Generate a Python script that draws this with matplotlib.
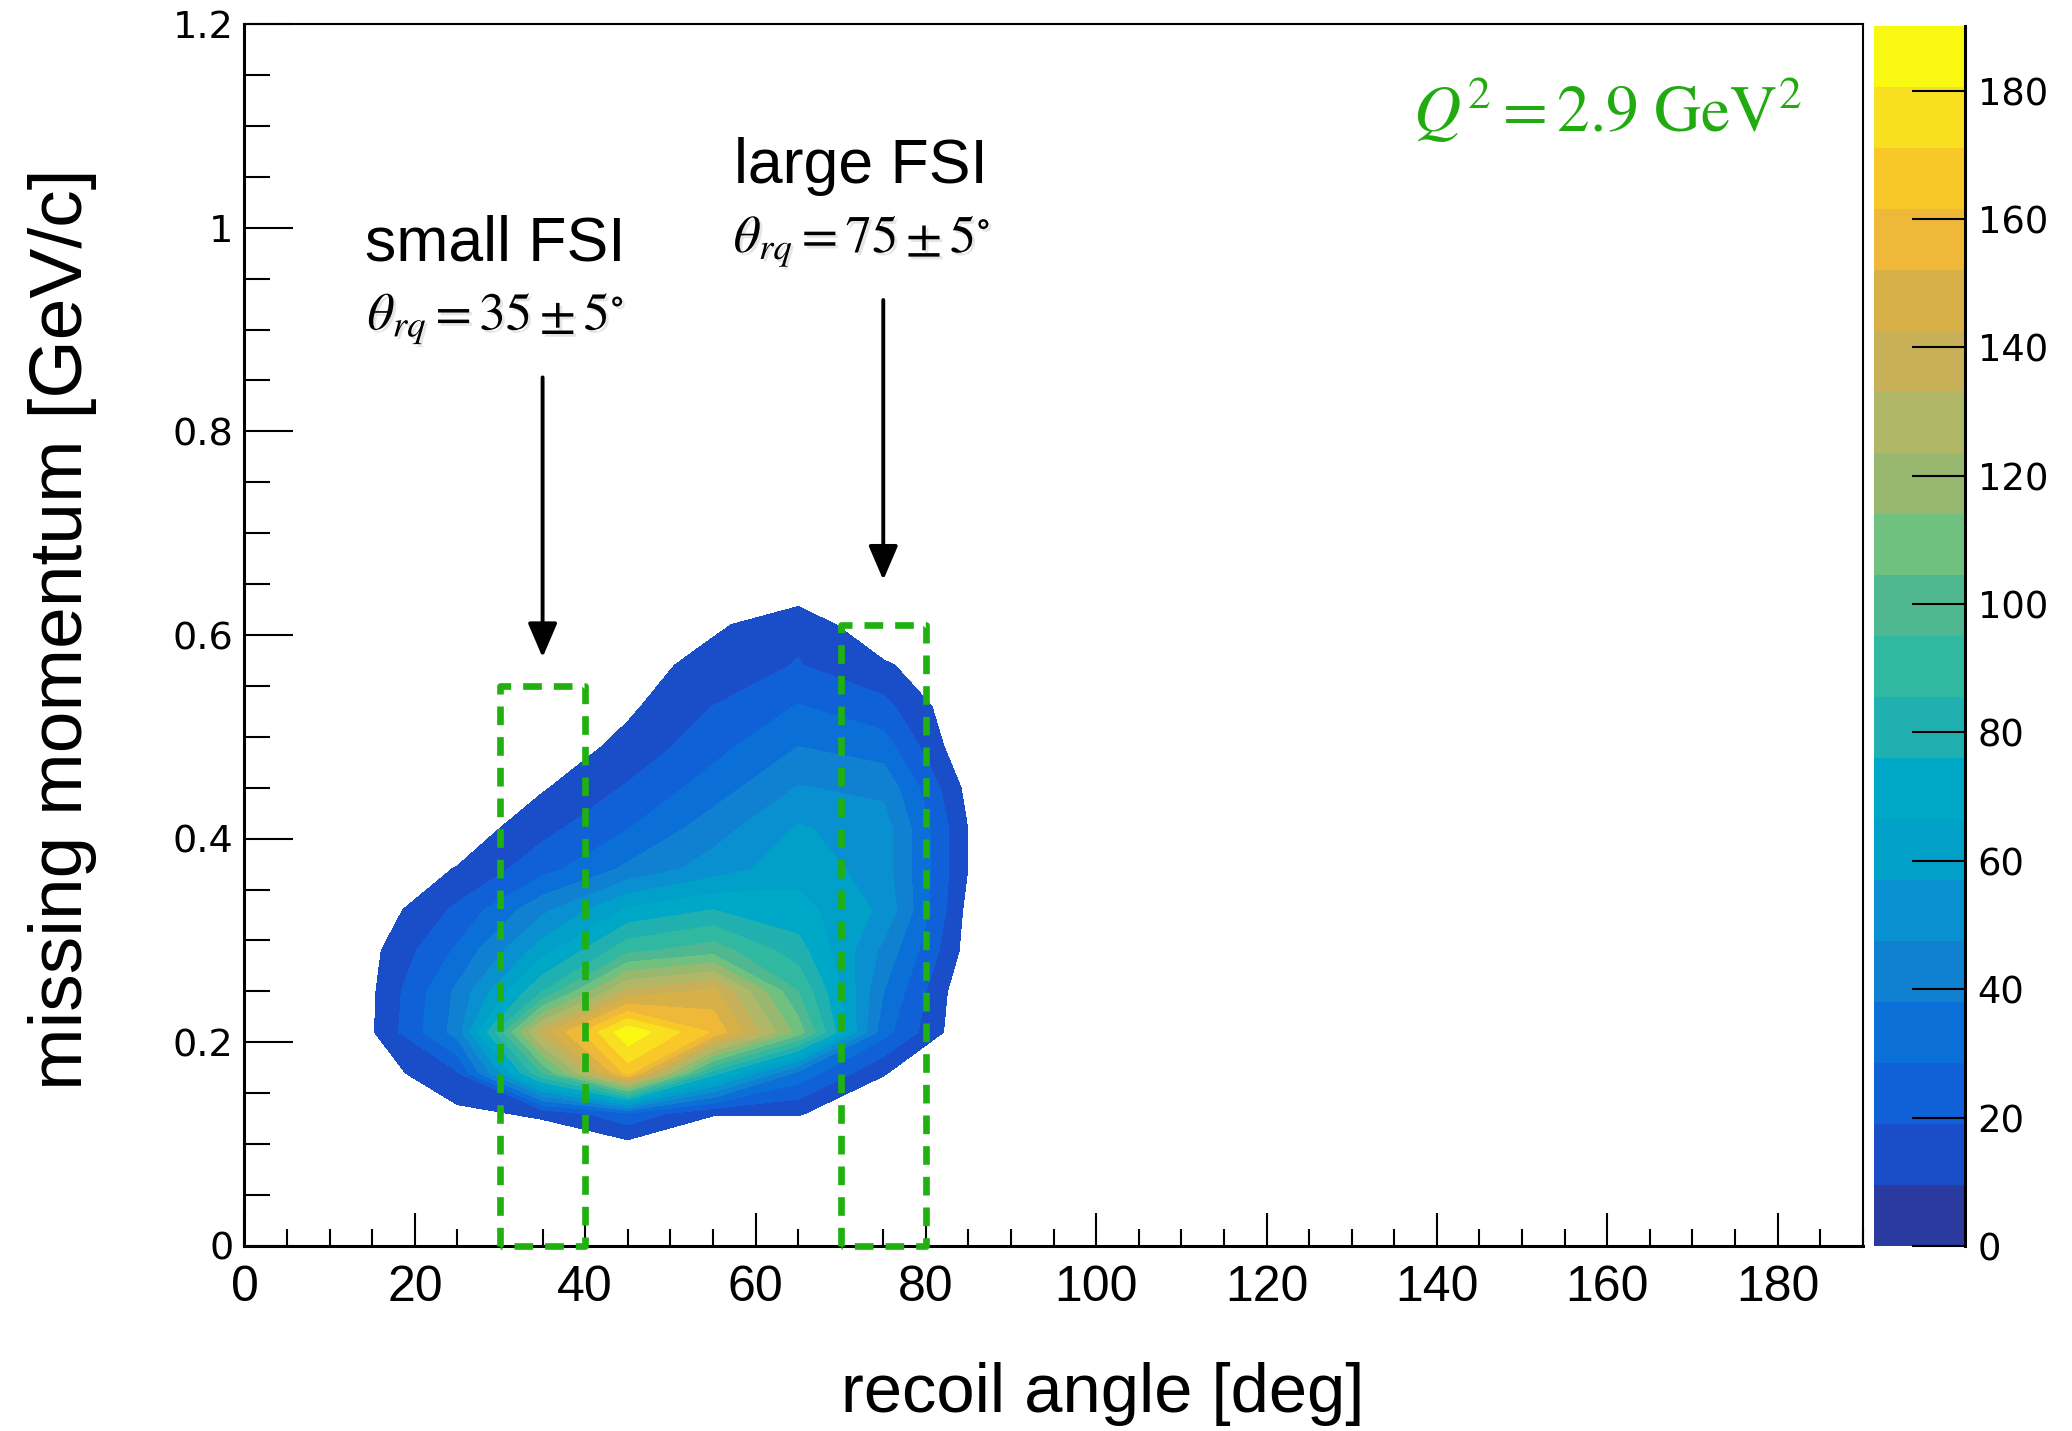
import matplotlib
matplotlib.use("Agg")
import matplotlib.pyplot as plt
import matplotlib.patheffects as pe
from matplotlib.colors import ListedColormap, BoundaryNorm
from matplotlib.cm import ScalarMappable
from matplotlib.ticker import MultipleLocator, FuncFormatter
import numpy as np

# histogram bin centres
angle_bins = [5, 15, 25, 35, 45, 55, 65, 75, 85, 95]
pmiss_bins = [0.05, 0.09, 0.13, 0.17, 0.21, 0.25, 0.29, 0.33, 0.37,
              0.41, 0.45, 0.49, 0.53, 0.57, 0.61, 0.65]

# counts[row = pmiss bin][col = angle bin]
counts = [
    [0, 0,   0,   0,    0,   0,    0,    0,  0, 0],
    [0, 0,   0,   0,    0,   0,    0,    0,  0, 0],
    [0, 0,   7,  11,   26,  10,   10,    3,  0, 0],
    [0, 4,  18,  95,  165,  80,   35,   10,  0, 0],
    [0, 8.5, 42, 138, 188, 160,  110,   32,  0, 0],
    [0, 8,  40,  85,  135, 145,   95,   38,  0, 0],
    [0, 7,  30,  62,   92, 100,   80,   45,  5, 0],
    [0, 3,  21,  45,   68,  76,   70,   55,  6, 0],
    [0, 2,  10,  25,   40,  52,   63,   52,  9, 0],
    [0, 0,   3,  16,   28,  43,   58,   52,  9, 0],
    [0, 0,   0,   8.5, 20,  33,   48,   45,  6, 0],
    [0, 0,   0,   3,   12.4, 25,  38,   33,  0, 0],
    [0, 0,   0,   0,    7.7, 19,  29,   22,  0, 0],
    [0, 0,   0,   0,    4,  14,   19.5, 11,  0, 0],
    [0, 0,   0,   0,    0,   7.4, 17,    0,  0, 0],
    [0, 0,   0,   0,    0,   0,    0,    0,  0, 0],
]

n_levels = 20
z_max = 190

# FSI selection windows
win_names = ["small FSI", "large FSI"]
win_lo = [30, 70]
win_hi = [40, 80]
win_top = [0.55, 0.61]

q2_value = 2.9

# ROOT "bird" palette, one colour per contour band
band_colors = ["#2a3a9e", "#1a4ec8", "#1060d8", "#0a70d8", "#1080d0",
               "#0890d0", "#00a0c8", "#00a8c8", "#20b0b0", "#30b8a0",
               "#50b890", "#70c080", "#98b870", "#b0b868", "#c8b058",
               "#d8b048", "#f0b838", "#f8c828", "#f8e020", "#f8f810"]

green = "#22aa11"

fig = plt.figure(figsize=(20.72, 14.31), dpi=100)
ax = fig.add_axes([0.118, 0.1293, 0.781, 0.8539])
cax = fig.add_axes([0.9045, 0.1293, 0.0439, 0.8522])

levels = np.linspace(0, z_max, n_levels + 1)
X, Y = np.meshgrid(angle_bins, pmiss_bins)
Z = np.array(counts, dtype=float)
# lowest band is left empty, like ROOT's CONT option
cs = ax.contourf(X, Y, Z, levels=levels[1:], colors=band_colors[1:])
cs.set_edgecolor("face")
cs.set_linewidth(0.4)

ax.set_xlim(0, 190)
ax.set_ylim(0, 1.2)
ax.xaxis.set_major_locator(MultipleLocator(20))
ax.xaxis.set_minor_locator(MultipleLocator(5))
ax.yaxis.set_major_locator(MultipleLocator(0.2))
ax.yaxis.set_minor_locator(MultipleLocator(0.05))
ax.yaxis.set_major_formatter(FuncFormatter(lambda v, p: f"{v:g}"))

ax.tick_params(which="both", direction="in", top=False, right=False, width=1.5)
ax.tick_params(axis="y", which="major", length=35, labelsize=27.5, pad=8,
               labelfontfamily="DejaVu Sans")
ax.tick_params(axis="y", which="minor", length=19)
ax.tick_params(axis="x", which="major", length=24, labelsize=36, pad=14,
               labelfontfamily=["Liberation Sans Narrow", "Liberation Sans"])
ax.tick_params(axis="x", which="minor", length=12)
for s in ax.spines.values():
    s.set_linewidth(1.5)
ax.spines["left"].set_linewidth(2.2)
ax.spines["bottom"].set_linewidth(2.2)

fig.text(0.532, 0.026, "recoil angle [deg]", ha="center", va="center",
         fontsize=49.5, family="Liberation Sans")
fig.text(0.0304, 0.5605, "missing momentum [GeV/c]", ha="center", va="center",
         rotation=90, fontsize=54, family="Liberation Sans")

# dashed selection windows
for lo, hi, top in zip(win_lo, win_hi, win_top):
    ax.plot([lo, lo, hi, hi, lo], [0, top, top, 0, 0], color="#20b010",
            lw=4.8, ls=(0, (2.8, 1.8)), clip_on=False, zorder=3)

shadow = [pe.withSimplePatchShadow(offset=(2, -2), shadow_rgbFace="0.5", alpha=0.2)]
name_pos = [(29.4, 0.968), (72.4, 1.044)]
for name, lo, hi, (tx, ty) in zip(win_names, win_lo, win_hi, name_pos):
    mid = (lo + hi) / 2
    half = (hi - lo) / 2
    ax.text(tx, ty, name, ha="center", va="baseline", fontsize=45,
            family="Liberation Sans")
    ax.text(tx + 0.1, ty - 0.068, rf"$\theta_{{rq}} = {mid:g} \pm {half:g}^{{\circ}}$",
            ha="center", va="baseline", fontsize=38, math_fontfamily="stix",
            path_effects=shadow)
    ax.annotate("", xy=(mid, ty - 0.39), xytext=(mid, ty - 0.115),
                arrowprops=dict(arrowstyle="-|>,head_length=0.7,head_width=0.3",
                                mutation_scale=30, lw=2.8, color="k",
                                shrinkA=0, shrinkB=0))

ax.text(160, 1.094, rf"$Q^2 = {q2_value}\ \mathrm{{GeV}}^2$", color=green,
        fontsize=47, ha="center", va="baseline", math_fontfamily="stix")

# colour scale
sm = ScalarMappable(norm=BoundaryNorm(levels, n_levels),
                    cmap=ListedColormap(band_colors))
cb = fig.colorbar(sm, cax=cax, ticks=np.arange(0, 181, 20))
cb.outline.set_visible(False)
cb.minorticks_off()
cax.tick_params(direction="in", length=38, width=1.5, labelsize=26.6, pad=9,
                labelfontfamily="DejaVu Sans", right=True, left=False)
cax.axvline(1, color="k", lw=2.2, clip_on=False)

fig.savefig("out.png", dpi=100, facecolor="white")
